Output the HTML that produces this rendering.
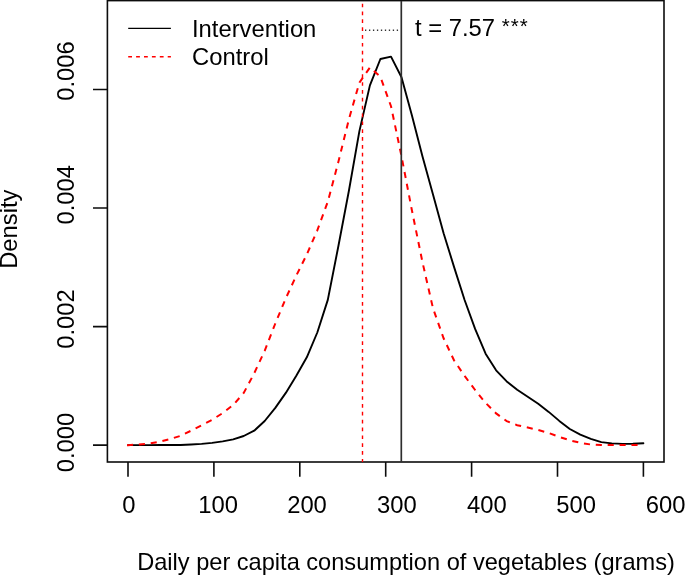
<!DOCTYPE html>
<html><head><meta charset="utf-8"><style>
html,body{margin:0;padding:0;background:#fff;}
body{width:685px;height:575px;overflow:hidden;}
svg{display:block;will-change:transform;}
text{font-family:"Liberation Sans",sans-serif;fill:#000;}
</style></head><body>
<svg width="685" height="575" viewBox="0 0 685 575">
<rect x="0" y="0" width="685" height="575" fill="#fff"/>
<g fill="none" stroke="#0c0c0c" stroke-width="1.6">
<rect x="107.4" y="0.6" width="556.6" height="461.4"/>
<path d="M128 462V476.7M213.9 462V476.7M299.8 462V476.7M385.7 462V476.7M471.6 462V476.7M557.5 462V476.7M643.4 462V476.7"/>
<path d="M93 445.16H107.4M93 326.6H107.4M93 208.05H107.4M93 89.5H107.4"/>
</g>
<polyline fill="none" stroke="#000" stroke-width="1.9" stroke-linejoin="round" stroke-linecap="round" points="128.0,445.1 138.5,445.1 149.0,445.1 159.6,445.0 170.1,445.0 180.6,445.0 191.1,444.5 201.6,443.9 212.1,442.9 222.7,441.4 233.2,439.4 243.7,436.0 254.2,430.7 264.7,421.0 275.3,407.9 285.8,392.9 296.3,375.7 306.8,357.3 317.3,332.5 327.8,299.9 338.4,246.0 348.9,190.7 359.4,131.1 369.9,85.4 380.4,59.0 391.0,56.6 401.5,77.2 412.0,115.8 422.5,156.4 433.0,194.5 443.6,233.2 454.1,267.1 464.6,300.0 475.1,328.9 485.6,353.7 496.1,370.3 506.7,381.4 517.2,389.8 527.7,396.8 538.2,403.8 548.7,411.9 559.3,420.9 569.8,429.0 580.3,434.7 590.8,438.9 601.3,442.1 611.8,443.4 622.4,443.9 632.9,443.8 643.4,443.2"/>
<polyline fill="none" stroke="#ff0000" stroke-width="2" stroke-dasharray="6.1 5.8" points="127,445.2 128.0,445.2 138.5,444.5 149.0,443.5 159.6,441.8 170.1,439.1 180.6,435.8 191.1,430.7 201.6,425.3 212.1,419.8 222.7,413.1 233.2,405.0 243.7,393.0 254.2,373.3 264.7,350.8 275.3,323.5 285.8,298.3 296.3,275.6 306.8,254.5 317.3,230.3 327.8,201.7 338.4,161.7 348.9,119.3 359.4,82.6 369.9,67.5 380.4,76.8 391.0,106.2 401.5,156.2 412.0,210.8 422.5,262.3 433.0,308.3 443.6,338.3 454.1,360.5 464.6,375.9 475.1,390.0 485.6,402.9 496.1,413.4 506.7,421.1 517.2,425.2 527.7,427.5 538.2,429.9 548.7,433.0 559.3,436.9 569.8,440.3 580.3,442.8 590.8,444.5 601.3,445.1 611.8,445.1 622.4,445.1 632.9,445.1 643.4,445.1"/>
<line x1="362.5" y1="3.65" x2="362.5" y2="462" stroke="#ff0000" stroke-width="1.4" stroke-dasharray="3.7 4.15"/>
<line x1="401.3" y1="462" x2="401.3" y2="1" stroke="#2e2e2e" stroke-width="1.7"/>
<line x1="365" y1="30.2" x2="399" y2="30.2" stroke="#333" stroke-width="1.4" stroke-dasharray="1.3 2.67"/>
<line x1="128.2" y1="28.4" x2="170.9" y2="28.4" stroke="#000" stroke-width="1.4"/>
<line x1="128.2" y1="56.8" x2="170.9" y2="56.8" stroke="#ff0000" stroke-width="1.4" stroke-dasharray="3.8 4.1"/>
<text font-size="23.8" x="192.00" y="36.80">Intervention</text>
<text font-size="23.8" x="192.00" y="65.00">Control</text>
<text font-size="23.8" x="415.00" y="35.90">t = 7.57 <tspan font-size="20.5" dy="-3.2" letter-spacing="1.0">***</tspan></text>
<text text-anchor="middle" font-size="23.8" x="128.80" y="513.30">0</text>
<text text-anchor="middle" font-size="23.8" x="218.10" y="513.30">100</text>
<text text-anchor="middle" font-size="23.8" x="307.00" y="513.30">200</text>
<text text-anchor="middle" font-size="23.8" x="396.80" y="513.30">300</text>
<text text-anchor="middle" font-size="23.8" x="486.90" y="513.30">400</text>
<text text-anchor="middle" font-size="23.8" x="576.20" y="513.30">500</text>
<text text-anchor="middle" font-size="23.8" x="665.70" y="513.30">600</text>
<text text-anchor="middle" font-size="23.6" x="406.00" y="570.00">Daily per capita consumption of vegetables (grams)</text>
<text text-anchor="middle" font-size="23.8" transform="translate(73.80,442.50) rotate(-90)">0.000</text>
<text text-anchor="middle" font-size="23.8" transform="translate(73.80,318.95) rotate(-90)">0.002</text>
<text text-anchor="middle" font-size="23.8" transform="translate(73.80,194.80) rotate(-90)">0.004</text>
<text text-anchor="middle" font-size="23.8" transform="translate(73.80,71.05) rotate(-90)">0.006</text>
<text text-anchor="middle" font-size="23.8" transform="translate(17.00,229.20) rotate(-90)">Density</text>
</svg>
</body></html>
